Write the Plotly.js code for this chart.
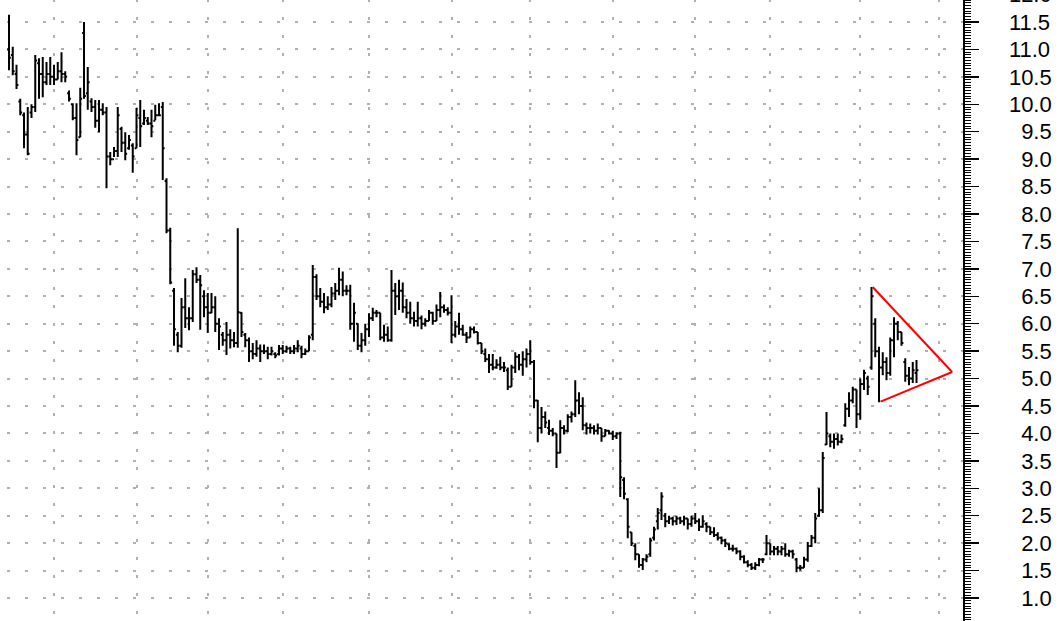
<!DOCTYPE html>
<html>
<head>
<meta charset="utf-8">
<script src="https://cdn.plot.ly/plotly-3.0.1.min.js"></script>
<style>
  html, body { margin: 0; padding: 0; background: #ffffff; overflow: hidden; }
  #chart { position: absolute; left: 0; top: -10px; width: 1061px; height: 631px; }
</style>
</head>
<body>
<div id="chart"></div>
<script>
// ---- data (bar index = trading day) ----
const barHigh = [
11.63,11.05,10.72,10.10,9.85,9.95,10.00,10.90,10.84,10.86,
10.77,10.86,10.72,10.77,10.95,10.60,10.25,10.02,10.02,10.30,
11.50,10.68,10.11,10.08,10.08,10.02,9.95,9.13,9.22,9.95,
9.59,9.49,9.44,9.29,9.93,10.08,9.90,9.77,9.90,9.99,
10.02,10.04,8.65,7.75,6.65,5.85,6.47,6.83,6.30,6.98,
7.03,6.89,6.61,6.56,6.56,6.50,6.10,5.85,6.03,5.90,
5.85,7.74,6.21,5.83,5.75,5.65,5.70,5.62,5.62,5.58,
5.58,5.48,5.61,5.61,5.60,5.58,5.61,5.70,5.60,5.55,
5.79,7.07,6.90,6.65,6.56,6.50,6.67,6.74,7.02,6.95,
6.70,6.71,6.38,6.01,5.83,6.00,6.19,6.29,6.25,6.20,
5.98,5.95,6.98,6.74,6.80,6.75,6.45,6.40,6.22,6.40,
6.15,6.10,6.25,6.22,6.35,6.58,6.35,6.30,6.52,6.05,
6.20,5.98,5.85,5.95,5.95,5.85,5.65,5.55,5.45,5.45,
5.35,5.40,5.30,5.20,5.25,5.48,5.45,5.50,5.55,5.70,
5.34,4.61,4.48,4.40,4.25,4.10,4.00,4.24,4.15,4.35,
4.40,4.97,4.75,4.66,4.20,4.18,4.15,4.18,4.10,4.08,
4.06,4.05,4.02,4.03,3.20,2.82,2.20,2.00,1.80,1.73,
1.80,2.10,2.30,2.64,2.93,2.55,2.50,2.48,2.50,2.48,
2.50,2.45,2.50,2.55,2.45,2.51,2.38,2.30,2.29,2.20,
2.12,2.08,2.00,1.97,1.92,1.87,1.78,1.69,1.64,1.65,
1.73,1.73,2.15,2.00,1.95,1.95,1.95,2.00,1.88,1.88,
1.73,1.60,1.75,2.02,2.15,2.55,3.00,3.66,4.39,4.00,
4.00,4.00,3.98,4.55,4.75,4.85,4.80,5.00,5.16,5.05,
6.67,6.10,5.58,5.48,5.39,5.75,6.12,6.05,5.85,5.37,
5.21,5.30,5.34
];
const barLow = [
10.62,10.53,10.28,9.80,9.20,9.07,9.75,9.86,10.10,10.13,
10.35,10.35,10.35,10.45,10.40,10.40,10.05,9.71,9.07,9.40,
10.10,9.90,9.86,9.57,9.49,9.80,8.47,8.89,9.04,9.04,
9.13,8.98,9.17,8.75,9.20,9.22,9.62,9.62,9.40,9.71,
9.80,8.62,7.65,6.72,5.60,5.48,5.56,5.92,5.88,6.03,
6.74,5.89,6.12,5.83,6.19,5.85,5.52,5.60,5.43,5.55,
5.57,5.56,5.76,5.57,5.30,5.35,5.40,5.30,5.45,5.35,
5.42,5.37,5.42,5.45,5.47,5.45,5.45,5.48,5.37,5.43,
5.50,5.70,6.43,6.30,6.19,6.25,6.30,6.43,6.52,6.50,
6.52,5.89,5.67,5.52,5.48,5.60,5.76,6.05,6.12,5.70,
5.67,5.67,5.67,6.16,6.25,6.20,6.10,6.00,5.95,5.95,
5.90,5.95,6.05,5.98,6.05,6.12,6.20,6.15,5.65,5.75,
5.80,5.78,5.65,5.75,5.82,5.62,5.45,5.30,5.10,5.15,
5.18,5.15,5.12,4.79,4.85,5.10,5.15,5.05,5.20,5.25,
4.46,3.84,4.00,4.10,3.97,3.95,3.37,3.64,3.98,4.02,
4.20,4.30,4.35,4.06,3.98,4.00,3.98,3.98,3.85,3.95,
3.98,3.88,3.90,2.84,2.80,2.09,1.95,1.69,1.55,1.51,
1.65,1.75,2.05,2.25,2.42,2.29,2.35,2.32,2.33,2.35,
2.32,2.25,2.30,2.35,2.22,2.28,2.20,2.15,2.11,2.05,
1.98,1.93,1.87,1.85,1.80,1.69,1.63,1.56,1.51,1.51,
1.58,1.64,1.78,1.78,1.78,1.78,1.78,1.75,1.75,1.72,
1.47,1.50,1.55,1.66,1.93,2.00,2.48,2.55,3.79,3.75,
3.72,3.78,3.82,4.12,4.30,4.55,4.10,4.25,4.79,4.70,
5.16,5.39,4.57,5.06,4.97,5.05,5.39,5.70,5.60,4.94,
4.88,4.92,4.92
];
const barOpen = [
11.00,10.90,10.55,10.05,9.80,9.45,9.85,9.95,10.75,10.55,
10.40,10.55,10.50,10.45,10.60,10.55,10.20,10.00,9.75,9.40,
11.30,10.20,10.05,9.95,9.70,9.90,9.85,9.05,9.00,9.15,
9.55,9.30,9.20,9.25,9.20,9.75,9.65,9.70,9.65,9.70,
9.80,9.95,8.60,7.70,6.60,5.80,5.60,6.30,6.10,6.10,
6.90,6.80,6.50,6.30,6.20,6.30,6.00,5.80,5.70,5.80,
5.70,5.65,6.20,5.80,5.70,5.50,5.45,5.55,5.50,5.50,
5.45,5.45,5.45,5.55,5.50,5.55,5.50,5.55,5.55,5.45,
5.50,5.80,6.85,6.50,6.40,6.30,6.35,6.55,6.60,6.80,
6.60,6.60,6.00,6.00,5.60,5.70,5.90,6.10,6.20,6.20,
5.75,5.80,5.70,6.60,6.50,6.60,6.30,6.20,6.10,6.05,
6.10,6.00,6.05,6.20,6.05,6.25,6.30,6.25,6.20,5.80,
5.95,5.90,5.80,5.75,5.90,5.85,5.65,5.45,5.35,5.25,
5.20,5.25,5.20,5.15,4.85,5.20,5.40,5.25,5.35,5.45,
5.30,4.60,4.10,4.30,4.10,4.05,4.00,3.65,4.10,4.05,
4.30,4.35,4.60,4.50,4.15,4.10,4.10,4.05,4.10,3.95,
4.05,4.00,3.95,4.00,3.15,2.80,2.20,1.95,1.80,1.60,
1.70,1.80,2.10,2.40,2.60,2.50,2.40,2.45,2.40,2.45,
2.40,2.45,2.35,2.45,2.40,2.30,2.35,2.30,2.20,2.15,
2.10,2.05,1.98,1.90,1.90,1.85,1.75,1.65,1.60,1.55,
1.60,1.70,1.80,2.00,1.85,1.90,1.85,1.90,1.80,1.85,
1.70,1.55,1.55,1.70,1.95,2.10,2.50,2.60,3.80,3.95,
3.85,3.90,3.85,4.15,4.45,4.60,4.80,4.35,4.90,5.00,
5.20,6.00,5.50,5.20,5.30,5.10,5.70,6.00,5.85,5.30,
5.05,5.00,5.10
];
const barClose = [
10.85,10.60,10.35,9.85,9.45,9.10,9.95,10.80,10.55,10.40,
10.55,10.50,10.45,10.60,10.55,10.50,10.10,9.75,9.35,10.10,
10.15,10.40,9.95,9.70,9.90,9.85,9.05,9.00,9.15,9.80,
9.30,9.10,9.35,9.05,9.80,9.60,9.75,9.65,9.60,9.80,
9.80,9.20,7.70,6.75,5.90,5.60,6.30,6.10,6.10,6.90,
6.80,6.70,6.30,6.20,6.30,6.00,5.95,5.70,5.80,5.70,
5.65,6.21,5.85,5.70,5.50,5.45,5.55,5.50,5.50,5.45,
5.50,5.42,5.55,5.50,5.55,5.50,5.55,5.60,5.45,5.50,
5.75,6.85,6.50,6.40,6.30,6.35,6.55,6.60,6.80,6.60,
6.60,6.00,6.20,5.60,5.70,5.90,6.10,6.20,6.20,5.75,
5.80,5.70,6.60,6.50,6.60,6.30,6.20,6.10,6.05,6.10,
6.00,6.05,6.20,6.05,6.25,6.30,6.25,6.20,5.80,5.95,
5.90,5.80,5.75,5.90,5.85,5.65,5.50,5.35,5.25,5.20,
5.25,5.20,5.20,4.85,5.20,5.40,5.25,5.35,5.45,5.30,
4.60,4.10,4.30,4.20,4.05,4.00,3.65,4.10,4.05,4.30,
4.35,4.60,4.50,4.15,4.10,4.10,4.05,4.10,3.95,4.05,
4.00,3.95,4.00,3.20,2.90,2.30,2.00,1.80,1.60,1.70,
1.75,2.05,2.25,2.55,2.85,2.40,2.45,2.40,2.45,2.40,
2.45,2.35,2.45,2.40,2.30,2.40,2.30,2.20,2.15,2.10,
2.05,2.00,1.90,1.90,1.85,1.75,1.65,1.60,1.55,1.60,
1.70,1.70,2.00,1.85,1.90,1.85,1.90,1.80,1.85,1.80,
1.55,1.55,1.70,1.95,2.10,2.45,2.60,3.55,4.00,3.85,
3.90,3.85,3.90,4.45,4.60,4.80,4.35,4.90,5.10,4.85,
6.50,5.50,5.20,5.30,5.10,5.70,6.00,5.85,5.65,5.05,
5.00,5.15,5.15
];
// first bar of each month (vertical grid lines)
const monthStart = [12, 34, 53, 73, 96, 118, 139, 161, 183, 203, 227, 248];
// hand-drawn triangle pattern: [bar index, price]
const upperLineX = [230.3, 251.5];
const upperLineY = [6.67, 5.12];
const lowerLineX = [232.4, 251.5];
const lowerLineY = [4.58, 5.12];
// price axis tick labels
const yTickLabels = ['1.0','1.5','2.0','2.5','3.0','3.5','4.0','4.5','5.0','5.5','6.0','6.5','7.0','7.5','8.0','8.5','9.0','9.5','10.0','10.5','11.0','11.5','12.0'];

const barIndex = barHigh.map((_, i) => i);

const labelAlias = {};
yTickLabels.forEach(t => { labelAlias[t] = (t.length < 4 ? '\u2007' : '') + t; });

const traces = [
  {
    type: 'ohlc',
    x: barIndex,
    open: barOpen, high: barHigh, low: barLow, close: barClose,
    increasing: { line: { color: '#000000', width: 2 } },
    decreasing: { line: { color: '#000000', width: 2 } },
    tickwidth: 0.5,
    hoverinfo: 'skip',
    showlegend: false
  },
  {
    type: 'scatter', mode: 'lines', x: upperLineX, y: upperLineY,
    line: { color: '#ff0000', width: 2 }, hoverinfo: 'skip', showlegend: false
  },
  {
    type: 'scatter', mode: 'lines', x: lowerLineX, y: lowerLineY,
    line: { color: '#ff0000', width: 2 }, hoverinfo: 'skip', showlegend: false
  }
];

const gridColor = '#b0b0b0';

const layout = {
  width: 1061,
  height: 631,
  margin: { l: 0, r: 98, t: 0, b: 0, pad: 0 },
  paper_bgcolor: '#ffffff',
  plot_bgcolor: '#ffffff',
  showlegend: false,
  font: { family: '"Liberation Sans", Arial, sans-serif', color: '#000000' },
  xaxis: {
    type: 'linear',
    range: [-2.4, 254.4],
    rangeslider: { visible: false },
    tickmode: 'array',
    tickvals: monthStart,
    showticklabels: false,
    ticks: '',
    showgrid: true,
    gridcolor: gridColor,
    gridwidth: 2,
    griddash: '0px,9px,3px,6px',
    zeroline: false,
    showline: false
  },
  yaxis: {
    side: 'right',
    range: [0.581, 12.083],
    tickmode: 'linear',
    tick0: 0,
    dtick: 0.5,
    tickformat: '.1f',
    labelalias: labelAlias,
    ticklabeloverflow: 'allow',
    ticklabelstandoff: 26,
    ticks: 'outside',
    ticklen: 14,
    tickwidth: 1.5,
    tickcolor: '#000000',
    tickfont: { family: '"Liberation Sans", Arial, sans-serif', size: 22, color: '#000000' },
    showline: true,
    linecolor: '#000000',
    linewidth: 1.5,
    showgrid: true,
    gridcolor: gridColor,
    gridwidth: 2,
    griddash: '0px,7px,3px,8px',
    zeroline: false,
    minor: {
      dtick: 0.05,
      ticks: 'outside',
      ticklen: 6,
      tickwidth: 1,
      tickcolor: '#000000',
      showgrid: false
    }
  }
};

Plotly.newPlot('chart', traces, layout, { displayModeBar: false, staticPlot: true });
</script>
</body>
</html>
